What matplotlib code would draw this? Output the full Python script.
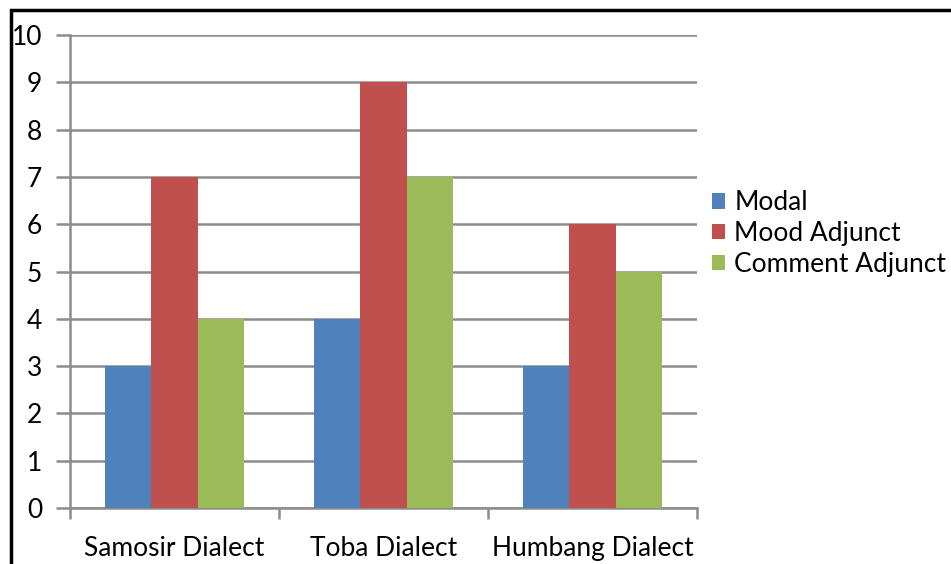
import numpy as np
import matplotlib.pyplot as plt
from matplotlib.patches import Rectangle

dialects = ["Samosir Dialect", "Toba Dialect", "Humbang Dialect"]
series_names = ["Modal", "Mood Adjunct", "Comment Adjunct"]
modal = [3, 4, 3]
mood_adjunct = [7, 9, 6]
comment_adjunct = [4, 7, 5]
colors = ["#4F81BD", "#C0504D", "#9BBB59"]

plt.rcParams['font.family'] = ['Lato', 'DejaVu Sans']

fig = plt.figure(figsize=(9.51, 5.64), dpi=100)
ax = fig.add_axes([70 / 951, 56 / 564, 627 / 951, 473 / 564])

x = np.arange(len(dialects))
w = 1 / 4.5
for i, (vals, name) in enumerate(zip([modal, mood_adjunct, comment_adjunct], series_names)):
    ax.bar(x + (i - 1) * w, vals, width=w, color=colors[i], label=name, zorder=3)

ax.set_xlim(-0.5, 2.5)
ax.set_ylim(0, 10)
ax.set_yticks(range(0, 11))
ax.yaxis.grid(True, color="#8c8c8c", linewidth=1.8, zorder=0)

# category ticks sit on the boundaries, labels in the middle
ax.set_xticks([-0.5, 0.5, 1.5, 2.5])
ax.set_xticklabels([])
ax.set_xticks(x, minor=True)
ax.set_xticklabels(dialects, minor=True, fontsize=19)
ax.tick_params(axis="x", which="major", length=8, color="#8c8c8c", width=1.8)
ax.tick_params(axis="x", which="minor", length=0, pad=20)
ax.tick_params(axis="y", length=10, color="#8c8c8c", width=1.8, labelsize=19, pad=10)

for s in ["top", "right"]:
    ax.spines[s].set_visible(False)
for s in ["left", "bottom"]:
    ax.spines[s].set_color("#8c8c8c")
    ax.spines[s].set_linewidth(1.8)

ax.legend(loc="center left", bbox_to_anchor=(1.024, 0.58),
          frameon=False, fontsize=19, handlelength=0.5, handleheight=0.5,
          handletextpad=0.35, labelspacing=0.22, borderpad=0, borderaxespad=0)

# outer frame of the chart area
fig.patches.append(Rectangle((11 / 951, -0.1), 1.2, (554 / 564) + 0.1,
                             transform=fig.transFigure, fill=False,
                             edgecolor="black", linewidth=2.5, clip_on=False))

fig.savefig("out.png", dpi=100)
